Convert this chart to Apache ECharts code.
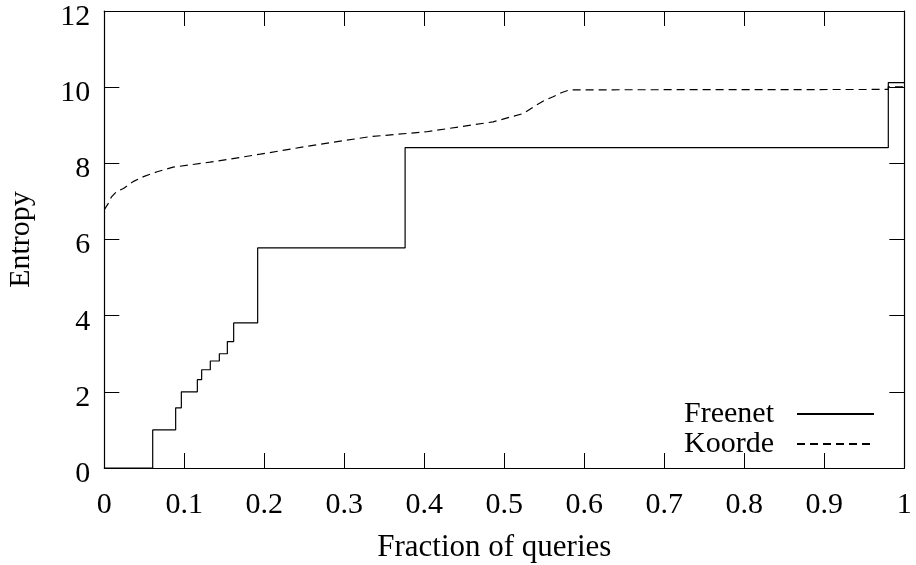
<!DOCTYPE html>
<html>
<head>
<meta charset="utf-8">
<title>Entropy vs fraction of queries</title>
<script src="https://cdn.jsdelivr.net/npm/echarts@6/dist/echarts.min.js"></script>
<style>
  html, body { margin: 0; padding: 0; background: #fff; }
  #chart { width: 916px; height: 565px; }
</style>
</head>
<body>
<div id="chart"></div>
<script>
// Freenet: step function (value holds until the next x)
const freenetX = [0, 0.0605, 0.0892, 0.0963, 0.1163, 0.1217, 0.1325, 0.1438, 0.1538, 0.1617, 0.1917, 0.376, 0.980, 1];
const freenetY = [0, 1, 1.58, 2, 2.32, 2.58, 2.81, 3, 3.32, 3.81, 5.78, 8.41, 10.12, 10.12];

// Koorde: smooth cumulative curve
const koordeX = [0, 0.005, 0.009, 0.0155, 0.024, 0.036, 0.049, 0.066, 0.086, 0.132, 0.195, 0.257, 0.332, 0.403, 0.486, 0.524, 0.540, 0.551, 0.561, 0.572, 0.582, 0.980, 0.980, 1];
const koordeY = [6.78, 6.95, 7.12, 7.26, 7.34, 7.52, 7.65, 7.78, 7.90, 8.03, 8.24, 8.46, 8.70, 8.83, 9.09, 9.31, 9.53, 9.66, 9.75, 9.86, 9.93, 9.94, 10.01, 10.01];

const xTicks = [0, 0.1, 0.2, 0.3, 0.4, 0.5, 0.6, 0.7, 0.8, 0.9, 1];
const yTicks = [0, 2, 4, 6, 8, 10, 12];

const FONT = '"Liberation Serif", "DejaVu Serif", serif';
const zip = (xs, ys) => xs.map((x, i) => [x, ys[i]]);

const chart = echarts.init(document.getElementById('chart'), null, { renderer: 'canvas' });

const tickStyle = { show: true, inside: true, length: 15, lineStyle: { color: '#000', width: 1 } };
const lineStyleAxis = { show: true, onZero: false, lineStyle: { color: '#000', width: 1.2 } };

chart.setOption({
  animation: false,
  backgroundColor: '#fff',
  grid: { left: 104.3, right: 11.7, top: 11, bottom: 97, containLabel: false, outerBoundsMode: 'none' },
  legend: {
    orient: 'vertical',
    right: 41,
    top: 399,
    padding: 0,
    align: 'right',
    itemWidth: 77,
    itemHeight: 14,
    itemGap: 0,
    itemStyle: { color: 'transparent', borderWidth: 0, opacity: 0 },
    textStyle: { fontFamily: FONT, fontSize: 30, color: '#000', lineHeight: 30, padding: [0, 18, 0, 0] },
    data: ['Freenet', 'Koorde']
  },
  xAxis: [
    {
      type: 'value', min: 0, max: 1, interval: 0.1,
      name: 'Fraction of queries', nameLocation: 'middle', nameGap: 64,
      nameTextStyle: { fontFamily: FONT, fontSize: 31, color: '#000', padding: [0, 20, 0, 0] },
      axisLine: lineStyleAxis, axisTick: tickStyle, splitLine: { show: false },
      axisLabel: {
        fontFamily: FONT, fontSize: 30, color: '#000', margin: 22,
        formatter: v => { const t = xTicks.find(k => Math.abs(k - v) < 1e-9); return t === undefined ? '' : String(t); }
      }
    },
    {
      type: 'value', min: 0, max: 1, interval: 0.1, position: 'top',
      axisLine: lineStyleAxis, axisTick: tickStyle, axisLabel: { show: false }, splitLine: { show: false }
    }
  ],
  yAxis: [
    {
      type: 'value', min: 0, max: 12, interval: 2,
      name: 'Entropy', nameLocation: 'middle', nameGap: 68, nameRotate: 90,
      nameTextStyle: { fontFamily: FONT, fontSize: 30, color: '#000' },
      axisLine: lineStyleAxis, axisTick: tickStyle, splitLine: { show: false },
      axisLabel: {
        fontFamily: FONT, fontSize: 30, color: '#000', margin: 14,
        formatter: v => yTicks.includes(v) ? '{v|' + v + '}' : '',
        rich: { v: { fontFamily: FONT, fontSize: 30, color: '#000', padding: [12, 0, 0, 0] } }
      }
    },
    {
      type: 'value', min: 0, max: 12, interval: 2, position: 'right',
      axisLine: lineStyleAxis, axisTick: tickStyle, axisLabel: { show: false }, splitLine: { show: false }
    }
  ],
  series: [
    {
      name: 'Freenet', type: 'line', step: 'end', symbol: 'none',
      xAxisIndex: 0, yAxisIndex: 0,
      lineStyle: { color: '#000', width: 1.2, type: 'solid' },
      itemStyle: { color: '#000' },
      data: zip(freenetX, freenetY)
    },
    {
      name: 'Koorde', type: 'line', symbol: 'none',
      xAxisIndex: 0, yAxisIndex: 0,
      lineStyle: { color: '#000', width: 1.2, type: [8, 5] },
      itemStyle: { color: '#000' },
      data: zip(koordeX, koordeY)
    }
  ]
});
</script>
</body>
</html>
